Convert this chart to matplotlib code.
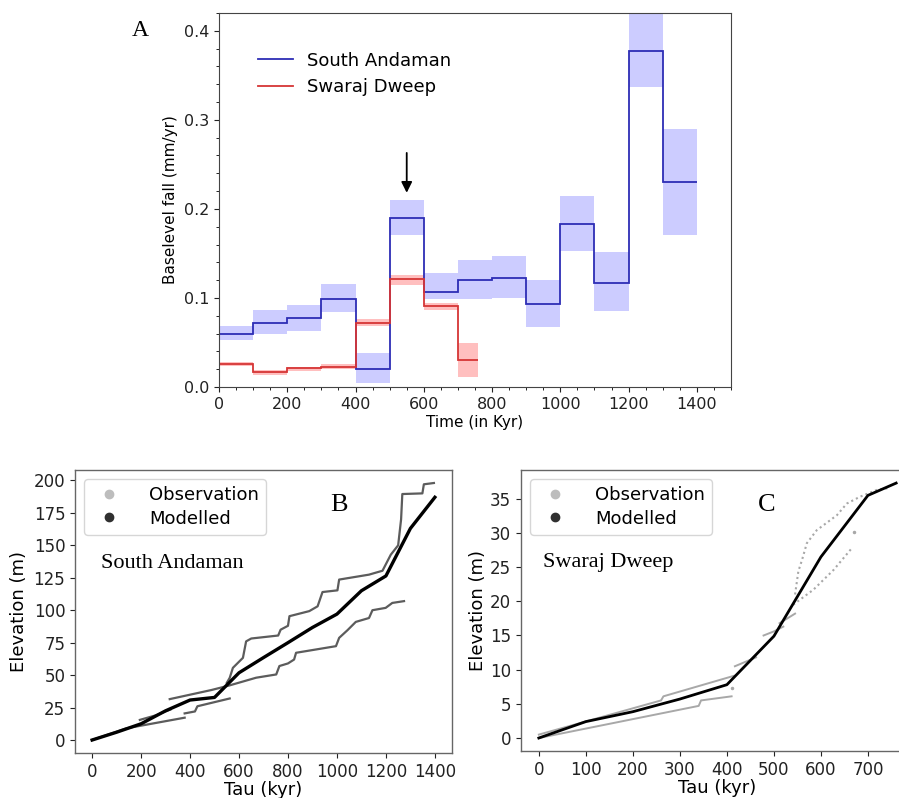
import matplotlib
matplotlib.use('Agg')
import matplotlib.pyplot as plt
from matplotlib.lines import Line2D
from matplotlib.ticker import AutoMinorLocator

SERIF = 'Liberation Serif'

# --- panel A: baselevel fall rates per 100 kyr bin ---
sa_edges = [0, 100, 200, 300, 400, 500, 600, 700, 800, 900, 1000, 1100, 1200, 1300, 1400]
sa_rate = [0.060, 0.072, 0.077, 0.099, 0.020, 0.190, 0.107, 0.120, 0.122, 0.093, 0.183, 0.117, 0.377, 0.230]
sa_lo = [0.053, 0.060, 0.063, 0.084, 0.004, 0.171, 0.099, 0.099, 0.100, 0.067, 0.153, 0.085, 0.337, 0.171]
sa_hi = [0.068, 0.086, 0.092, 0.116, 0.038, 0.210, 0.128, 0.143, 0.147, 0.120, 0.214, 0.152, 0.450, 0.290]

sd_edges = [0, 100, 200, 300, 400, 500, 600, 700, 760]
sd_rate = [0.026, 0.017, 0.021, 0.023, 0.072, 0.121, 0.091, 0.030]
sd_lo = [0.024, 0.014, 0.018, 0.020, 0.068, 0.115, 0.086, 0.011]
sd_hi = [0.028, 0.019, 0.023, 0.026, 0.076, 0.126, 0.094, 0.050]

# --- panel B: South Andaman elevation vs tau ---
b_mod_x = [0, 100, 200, 300, 400, 500, 600, 700, 800, 900, 1000, 1100, 1200, 1300, 1400]
b_mod_y = [0, 6.0, 12.5, 22.5, 30.8, 32.8, 51.8, 63.5, 75.0, 86.7, 97.0, 115.0, 126.4, 163.0, 187.0]
b_obs = [
    ([0, 140, 378], [0, 9.0, 17.2]),
    ([195, 260, 320], [15.5, 19.0, 23.5]),
    ([378, 420, 430, 562], [20.5, 22.0, 26.0, 32.0]),
    ([317, 487, 560, 670, 752, 765, 800, 825, 833, 996, 1009, 1043, 1077, 1131, 1145, 1199, 1226, 1274],
     [31.5, 38.5, 42.0, 48.0, 50.5, 57.0, 59.0, 62.0, 67.2, 72.3, 78.7, 84.6, 91.0, 94.0, 100.0, 101.8, 105.6, 107.0]),
    ([550, 562, 575, 616, 629, 650, 760, 770, 800, 806, 887, 921, 941, 1002, 1009, 1131, 1160, 1186, 1220,
      1250, 1262, 1267, 1349, 1355, 1396],
     [44.0, 47.9, 55.6, 63.3, 76.0, 78.2, 80.5, 85.0, 88.0, 95.4, 99.3, 103.0, 114.0, 115.3, 123.6, 127.4,
      129.0, 130.4, 142.8, 150.0, 170.0, 189.5, 190.0, 197.0, 198.0]),
]

# --- panel C: Swaraj Dweep elevation vs tau ---
c_mod_x = [0, 100, 200, 300, 400, 500, 600, 700, 760]
c_mod_y = [0, 2.4, 3.85, 5.7, 7.8, 14.9, 26.5, 35.5, 37.3]
c_obs = [
    ([0, 340, 345, 410], [0, 4.7, 5.5, 6.1]),
    ([0, 260, 265, 415], [0.5, 5.5, 6.1, 9.1]),
    ([417, 462], [10.5, 11.8]),
    ([478, 500, 520], [15.0, 15.6, 16.3]),
    ([512, 545], [16.8, 18.2]),
]
c_obs_dotted = [
    ([545, 552, 560, 570, 591, 634, 655, 683, 719, 747], [21.0, 24.4, 26.1, 28.5, 30.4, 32.6, 34.3, 35.3, 36.3, 36.6]),
    ([541, 584, 627, 666], [19.5, 21.7, 24.6, 27.8]),
]
c_obs_pts_x = [410, 670]
c_obs_pts_y = [7.3, 30.2]

fig = plt.figure(figsize=(8.99, 7.98), dpi=100)
fig.patch.set_facecolor('white')

# ---------------- A ----------------
axA = fig.add_axes([0.2436, 0.515, 0.5695, 0.4687])
axA.stairs(sa_hi, sa_edges, baseline=sa_lo, fill=True, color='blue', alpha=0.2, lw=0)
axA.stairs(sd_hi, sd_edges, baseline=sd_lo, fill=True, color='red', alpha=0.25, lw=0)
axA.stairs(sa_rate, sa_edges, baseline=None, color='#2d2db5', lw=1.3)
axA.stairs(sd_rate, sd_edges, baseline=None, color='#d63535', lw=1.3)
axA.annotate('', xy=(550, 0.215), xytext=(550, 0.266),
             arrowprops=dict(arrowstyle='-|>', color='black', lw=1.3, mutation_scale=16))
axA.set_xlim(0, 1500)
axA.set_ylim(0, 0.42)
axA.set_xticks([0, 200, 400, 600, 800, 1000, 1200, 1400])
axA.set_yticks([0.0, 0.1, 0.2, 0.3, 0.4])
axA.xaxis.set_minor_locator(AutoMinorLocator())
axA.yaxis.set_minor_locator(AutoMinorLocator())
axA.tick_params(labelsize=11.5, colors='#222')
axA.set_xlabel('Time (in Kyr)', fontsize=11, labelpad=2)
axA.set_ylabel('Baselevel fall (mm/yr)', fontsize=11, labelpad=4)
for s in axA.spines.values():
    s.set_color('#444')
hA = [Line2D([], [], color='#2d2db5', lw=1.3), Line2D([], [], color='#d63535', lw=1.3)]
axA.legend(hA, ['South Andaman', 'Swaraj Dweep'], loc='upper left', bbox_to_anchor=(0.045, 0.94),
           frameon=False, fontsize=13, handlelength=1.9, handletextpad=0.8, labelspacing=0.45)
fig.text(140 / 899, 1 - 30 / 798, 'A', family=SERIF, fontsize=17, ha='center', va='center')

# ---------------- B / C common ----------------
def style(ax):
    ax.tick_params(labelsize=12, colors='#222')
    for s in ax.spines.values():
        s.set_color('#666')
        s.set_linewidth(1.0)

leg_h = [Line2D([], [], ls='none', marker='o', ms=6, color='#bdbdbd'),
         Line2D([], [], ls='none', marker='o', ms=6, color='#303030')]

# ---------------- B ----------------
axB = fig.add_axes([0.0834, 0.0564, 0.4194, 0.3546])
for xs, ys in b_obs:
    axB.plot(xs, ys, color='#4a4a4a', lw=1.6, alpha=0.9)
axB.plot(b_mod_x, b_mod_y, color='black', lw=2.4)
axB.set_xlim(-70, 1470)
axB.set_ylim(-10, 208)
axB.set_xticks([0, 200, 400, 600, 800, 1000, 1200, 1400])
axB.set_yticks([0, 25, 50, 75, 100, 125, 150, 175, 200])
axB.set_xlabel('Tau (kyr)', fontsize=13, labelpad=0)
axB.set_ylabel('Elevation (m)', fontsize=13)
style(axB)
axB.legend(leg_h, ['Observation', 'Modelled'], loc='upper left', fontsize=13,
           handletextpad=1.2, borderpad=0.4, labelspacing=0.3, edgecolor='#cccccc')
axB.text(0.70, 0.875, 'B', transform=axB.transAxes, family=SERIF, fontsize=19, ha='center', va='center')
axB.text(0.068, 0.67, 'South Andaman', transform=axB.transAxes, family=SERIF, fontsize=16,
         ha='left', va='center')

# ---------------- C ----------------
axC = fig.add_axes([0.5795, 0.0589, 0.4372, 0.352])
for xs, ys in c_obs:
    axC.plot(xs, ys, color='#a8a8a8', lw=1.4)
for xs, ys in c_obs_dotted:
    axC.plot(xs, ys, color='#a8a8a8', lw=1.5, ls=(0, (1, 1.5)))
axC.plot(c_obs_pts_x, c_obs_pts_y, ls='none', marker='.', ms=3, color='#a8a8a8')
axC.plot(c_mod_x, c_mod_y, color='black', lw=2.0)
axC.set_xlim(-38, 798)
axC.set_ylim(-1.9, 39.2)
axC.set_xticks([0, 100, 200, 300, 400, 500, 600, 700])
axC.set_yticks([0, 5, 10, 15, 20, 25, 30, 35])
axC.set_xlabel('Tau (kyr)', fontsize=13, labelpad=0)
axC.set_ylabel('Elevation (m)', fontsize=13, labelpad=2)
style(axC)
axC.legend(leg_h, ['Observation', 'Modelled'], loc='upper left', fontsize=13,
           handletextpad=1.2, borderpad=0.4, labelspacing=0.3, edgecolor='#cccccc')
axC.text(0.626, 0.875, 'C', transform=axC.transAxes, family=SERIF, fontsize=19, ha='center', va='center')
axC.text(0.056, 0.67, 'Swaraj Dweep', transform=axC.transAxes, family=SERIF, fontsize=16,
         ha='left', va='center')

plt.savefig('out.png', dpi=100, facecolor='white')
plt.close()
